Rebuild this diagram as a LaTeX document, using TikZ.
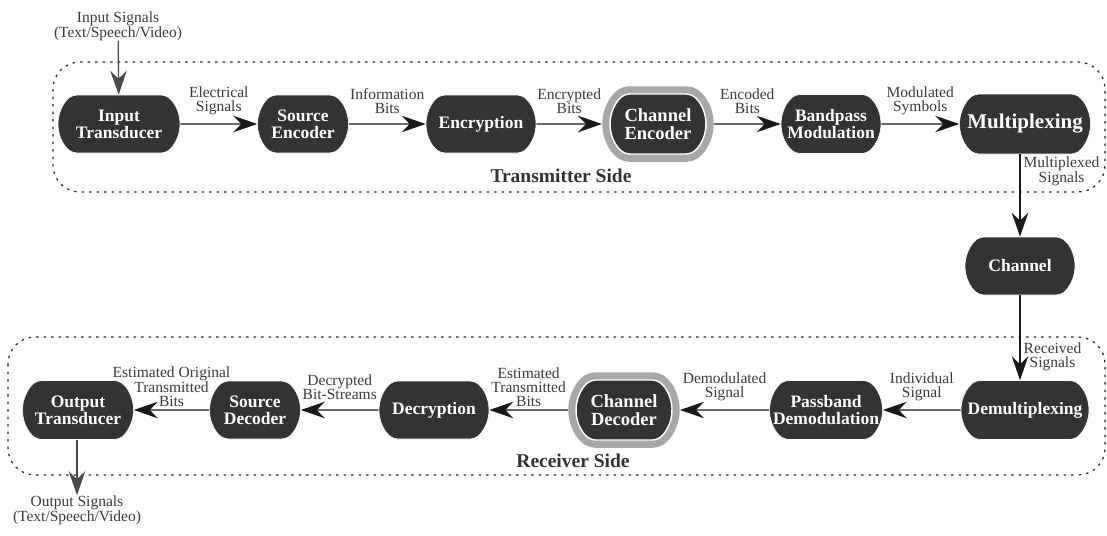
\documentclass[tikz,border=0pt]{standalone}
\usepackage{fontspec}
\setmainfont{Liberation Serif}
\usetikzlibrary{shapes.misc,arrows.meta}

\definecolor{blockfill}{HTML}{333333}
\definecolor{ringgray}{HTML}{A8A8A8}
\definecolor{labeltext}{HTML}{3A3A3A}
\definecolor{ioarrow}{HTML}{4A4A4A}

% widths given to the blocks leave out the two end arcs (about 40pt together)
\tikzset{
  block/.style={rounded rectangle, rounded rectangle arc length=110,
    rounded corners=4pt, fill=blockfill, draw=white, line width=0.6pt,
    text=white, font=\bfseries\fontsize{17.5}{17}\selectfont, align=center,
    minimum height=58pt, inner xsep=-20pt, inner ysep=2pt},
  coder/.style={block, font=\bfseries\fontsize{18.5}{18}\selectfont,
    minimum height=60pt, line width=1.4pt, outer sep=8pt,
    preaction={draw=ringgray, line width=15.5pt}},
  arr/.style={line width=1.3pt, draw=black!90,
    -{Stealth[length=24pt, width=16.5pt, inset=8pt]}},
  ioarr/.style={arr, draw=ioarrow},
  lbl/.style={font=\fontsize{15.5}{14}\selectfont, text=labeltext,
    align=center, inner sep=0pt},
  toplbl/.style={lbl, midway, yshift=23pt},
  sidelbl/.style={font=\bfseries\fontsize{19.5}{20}\selectfont, text=blockfill},
  region/.style={line width=1.2pt, dash pattern=on 2.5pt off 5pt,
    rounded corners=27pt, draw=black!85}
}

\begin{document}
\begin{tikzpicture}[x=1pt, y=-1pt]
  \useasboundingbox (0,0) rectangle (1107,535);

  % dotted frames of the two sides
  \draw[region] (53,62) rectangle (1105,192);
  \draw[region] (8,337) rectangle (1105,475);
  \node[sidelbl] (txside) at (561,176) {Transmitter Side};
  \node[sidelbl] (rxside) at (573,461) {Receiver Side};

  % transmitter chain
  \node[block, minimum width=82pt] (inT)  at (119,124) {Input\\Transducer};
  \node[block, minimum width=51pt] (srcE) at (303,124) {Source\\Encoder};
  \node[block, minimum width=70pt] (enc)  at (481,124) {Encryption};
  \node[coder, minimum width=56pt] (chE)  at (658,124) {Channel\\Encoder};
  \node[block, minimum width=60pt, minimum height=59pt] (bpm) at (831,124) {Bandpass\\Modulation};
  \node[block, minimum width=91pt, minimum height=60pt,
        font=\bfseries\fontsize{21}{21}\selectfont] (mux) at (1025,124) {Multiplexing};

  % channel
  \node[block, minimum width=70pt] (chan) at (1020,266) {Channel};

  % receiver chain
  \node[block, minimum width=88pt, minimum height=59pt] (demux) at (1025,410) {Demultiplexing};
  \node[block, minimum width=73pt, minimum height=59pt] (pbd)   at (826,410) {Passband\\Demodulation};
  \node[coder, minimum width=56pt] (chD)  at (624,410) {Channel\\Decoder};
  \node[block, minimum width=70pt] (dec)  at (434,410) {Decryption};
  \node[block, minimum width=51pt] (srcD) at (255,410) {Source\\Decoder};
  \node[block, minimum width=71pt, minimum height=59pt] (outT) at (78,410) {Output\\Transducer};

  % source and sink texts
  \node[lbl, font=\fontsize{15.5}{15}\selectfont] (insig) at (118,26) {Input Signals\\(Text/Speech/Video)};
  \node[lbl, font=\fontsize{15.5}{13}\selectfont] (outsig) at (77,510) {Output Signals\\(Text/Speech/Video)};

  \draw[ioarr] (insig) -- (inT);
  \draw[ioarr] (outT.south -| outsig.north) -- (outsig.north);

  % transmitter connections
  \draw[arr] (inT) -- node[toplbl] {Electrical\\Signals} (srcE);
  \draw[arr] (srcE) -- node[toplbl] {Information\\Bits} (enc);
  \draw[arr] (enc) -- node[toplbl] {Encrypted\\Bits} (chE);
  \draw[arr] (chE) -- node[toplbl] {Encoded\\Bits} (bpm);
  \draw[arr] (bpm) -- node[toplbl] {Modulated\\Symbols} (mux);

  % through the channel
  \draw[arr] (chan.north |- mux.south) -- node[lbl, pos=0.21, right=3pt] {Multiplexed\\Signals} (chan.north);
  \draw[arr] (chan.south) -- node[lbl, pos=0.72, right=3pt] {Received\\Signals} (chan.south |- demux.north);

  % receiver connections
  \draw[arr] (demux) -- node[toplbl] {Individual\\Signal} (pbd);
  \draw[arr] (pbd) -- node[toplbl] {Demodulated\\Signal} (chD);
  \draw[arr] (chD) -- node[toplbl] {Estimated\\Transmitted\\Bits} (dec);
  \draw[arr] (dec) -- node[toplbl] {Decrypted\\Bit-Streams} (srcD);
  \draw[arr] (srcD) -- node[toplbl] {Estimated Original\\Transmitted\\Bits} (outT);
\end{tikzpicture}
\end{document}
